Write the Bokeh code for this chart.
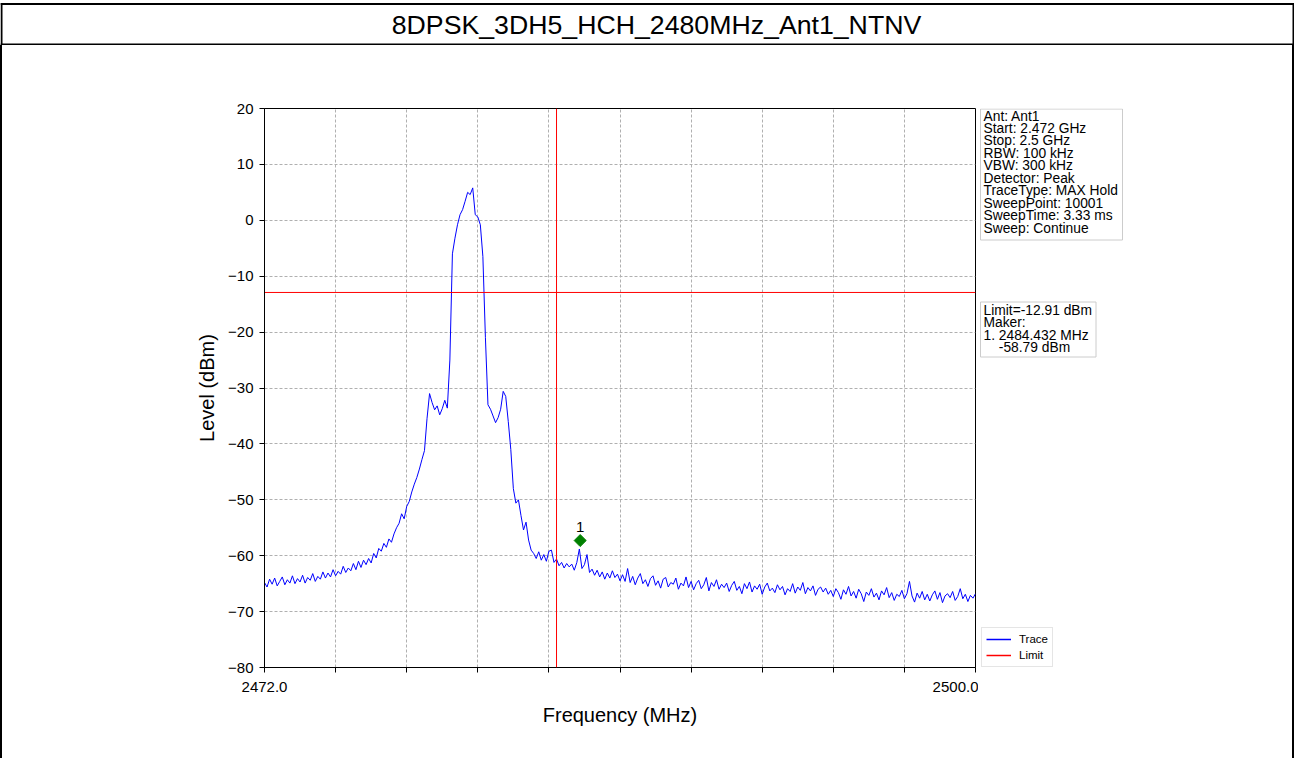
import numpy as np
from bokeh.plotting import figure
from bokeh.layouts import column, row
from bokeh.models import (Range1d, FixedTicker, Span, Legend, LegendItem, ColumnDataSource, Div)
from bokeh.transform import dodge
from bokeh.core.properties import value
from bokeh.embed import file_html
from bokeh.resources import INLINE

# ---------------- data ----------------
title_text = "8DPSK_3DH5_HCH_2480MHz_Ant1_NTNV"
freq_start = 2472.0
freq_stop = 2500.0

level_floor_left = [
    -64.8, -65.6, -64.2, -65.1, -64.0, -65.4, -64.6, -63.8, -65.2, -64.3,
    -64.9, -63.6, -65.0, -64.1, -64.7, -63.5, -64.9, -63.9, -64.4, -63.2,
    -64.6, -63.7, -64.2, -62.9, -64.0, -63.1, -63.8, -62.5, -63.6, -62.8,
    -63.3, -61.9, -63.0, -62.2, -62.7, -61.4, -62.5, -61.0, -62.1, -60.8,
    -61.6]
level_skirt_left = [
    -60.5, -61.3, -59.6, -60.4, -58.7, -59.2, -57.8, -58.5, -57.0, -57.6,
    -56.1, -55.0, -54.2, -52.5, -53.4, -51.2, -50.3, -48.6, -47.2, -46.0]
level_shoulder_left = [
    -44.5, -42.8, -41.2, -35.5, -31.0, -32.6, -33.9, -33.2, -34.8, -33.7]
level_main_lobe = [
    -32.2, -33.6, -25.0, -6.0, -3.2, -0.8, 1.0, 1.9, 3.4, 5.0,
    4.6, 5.8, 1.0, 0.6, -0.8, -6.5, -21.0, -33.0, -33.8, -35.0]
level_shoulder_right = [
    -36.2, -35.3, -33.8, -30.6, -31.5, -36.0, -41.0, -48.0, -50.6, -50.0]
level_skirt_right = [
    -52.8, -55.4, -54.0, -57.2, -59.0, -59.6, -60.5, -59.3, -60.8, -59.8,
    -61.0, -59.2, -59.0, -61.2, -60.6, -61.8, -61.2, -62.2, -61.4, -62.0,
    -61.5, -62.6, -61.2, -58.8, -62.3, -61.6, -59.8, -63.0, -62.4, -63.5,
    -62.6, -63.8, -62.9, -64.2, -63.1, -64.0, -62.7, -63.9, -63.3, -64.5]
level_floor_right = [
    -63.4, -64.6, -62.3, -64.8, -63.7, -65.2, -64.0, -63.2, -65.0, -64.3,
    -65.5, -64.1, -63.6, -65.3, -64.5, -65.8, -64.2, -63.9, -65.6, -64.8,
    -65.1, -64.0, -66.0, -64.9, -65.4, -63.8, -65.7, -64.6, -66.1, -65.0,
    -64.4, -65.9, -65.2, -63.9, -66.3, -64.8, -65.5, -64.3, -66.0, -65.1,
    -65.7, -64.9, -66.4, -65.3, -64.6, -66.2, -65.5, -66.8, -65.0, -65.9,
    -64.7, -66.5, -65.4, -66.0, -65.1, -66.9, -65.6, -64.9, -66.3, -65.8,
    -66.6, -65.2, -66.1, -65.5, -67.0, -65.9, -66.4, -65.0, -66.7, -65.6,
    -66.2, -64.8, -66.8, -65.7, -66.3, -65.4, -67.1, -66.0, -65.6, -66.5,
    -65.8, -66.9, -66.2, -67.3, -65.9, -66.6, -67.8, -66.1, -66.9, -65.5,
    -67.2, -66.4, -67.6, -66.0, -66.8, -68.2, -66.5, -67.1, -65.9, -67.4,
    -66.7, -67.9, -66.3, -67.0, -65.7, -67.5, -66.6, -68.0, -66.9, -67.3,
    -66.2, -67.7, -66.8, -64.6, -67.2, -68.3, -66.7, -67.6, -66.4, -67.9,
    -66.9, -68.1, -67.0, -66.3, -67.8, -66.6, -68.4, -67.2, -66.8, -67.5,
    -66.4, -68.0, -67.3, -65.9, -67.7, -66.9, -68.2, -67.1, -67.6, -66.8]

level_dbm = (level_floor_left + level_skirt_left + level_shoulder_left + level_main_lobe
             + level_shoulder_right + level_skirt_right + level_floor_right)
freq_mhz = list(np.linspace(freq_start, freq_stop, len(level_dbm)))

limit_dbm = -12.91
band_edge_mhz = 2483.5
marker_id = "1"
marker_freq = 2484.432
marker_level = -58.79

x_ticks = [2472.0, 2474.8, 2477.6, 2480.4, 2483.2, 2486.0, 2488.8, 2491.6, 2494.4, 2497.2, 2500.0]
x_tick_labels = ["2472.0", "", "", "", "", "", "", "", "", "", "2500.0"]
y_ticks = [-80, -70, -60, -50, -40, -30, -20, -10, 0, 10, 20]
y_tick_labels = ["\u221280", "\u221270", "\u221260", "\u221250", "\u221240", "\u221230",
                 "\u221220", "\u221210", "0", "10", "20"]

info_lines = ["Ant: Ant1", "Start: 2.472 GHz", "Stop: 2.5 GHz", "RBW: 100 kHz",
              "VBW: 300 kHz", "Detector: Peak", "TraceType: MAX Hold",
              "SweepPoint: 10001", "SweepTime: 3.33 ms", "Sweep: Continue"]
marker_lines = ["Limit=-12.91 dBm", "Maker:", "1. 2484.432 MHz",
                "\u00a0\u00a0\u00a0\u00a0-58.79 dBm"]
legend_labels = ["Trace", "Limit"]

# ---------------- layout geometry (pixels) ----------------
FONT = "Liberation Sans"
W, H = 1294, 758
TITLE_H = 45
BODY_H = H - TITLE_H
STRIP_W = 2
FRAME_L, FRAME_R, FRAME_T, FRAME_B = 264, 975, 108, 667
MAIN_W = 978 - STRIP_W
X0 = STRIP_W + MAIN_W
RIGHT_W = W - X0 - STRIP_W


def deco_fig(w, h, x0, x1, y0, y1, **borders):
    f = figure(width=w, height=h, output_backend="svg", toolbar_location=None,
               x_range=Range1d(x0, x1), y_range=Range1d(y1, y0),
               x_axis_type=None, y_axis_type=None, **borders)
    f.grid.visible = False
    f.outline_line_color = None
    f.background_fill_color = "white"
    f.border_fill_color = "white"
    return f


def strip(w, h):
    return Div(text="", width=w, height=h, margin=0,
               styles={"background-color": "black", "padding": "0", "margin": "0"})


def bar(f, l, r, t, b):
    f.quad(left=[l], right=[r], top=[t], bottom=[b], fill_color="black", line_color=None)


# ---- title row ----
tf = deco_fig(W, TITLE_H, 0, W, 0, TITLE_H, min_border=0)
bar(tf, 0, W, 2.5, 4.5)
bar(tf, 0, W, 43, 45)
bar(tf, 0, 2, 2.5, 45)
bar(tf, W - 2, W, 2.5, 45)
tf.text(x=[656], y=[24], text=[title_text], text_align="center", text_baseline="middle",
        text_font=value(FONT), text_font_size=value("26.7px"), text_color="black")

# ---- main chart ----
p = figure(width=MAIN_W, height=BODY_H, output_backend="svg", toolbar_location=None,
           x_range=Range1d(freq_start, freq_stop), y_range=Range1d(-80, 20),
           min_border_left=FRAME_L - STRIP_W, min_border_right=X0 - FRAME_R,
           min_border_top=FRAME_T - TITLE_H, min_border_bottom=H - FRAME_B)
p.border_fill_color = "white"
p.background_fill_color = "white"
p.outline_line_color = "black"
p.outline_line_width = 1
p.outline_line_alpha = 1

p.xaxis.ticker = FixedTicker(ticks=x_ticks)
p.xaxis.major_label_overrides = dict(zip(x_ticks, x_tick_labels))
p.yaxis.ticker = FixedTicker(ticks=y_ticks)
p.yaxis.major_label_overrides = dict(zip(y_ticks, y_tick_labels))
p.xgrid.ticker = FixedTicker(ticks=x_ticks)
p.ygrid.ticker = FixedTicker(ticks=y_ticks)
for ax in (p.xaxis[0], p.yaxis[0]):
    ax.axis_line_color = "black"
    ax.axis_line_width = 1
    ax.major_tick_line_color = "black"
    ax.major_tick_out = 5
    ax.major_tick_in = 0
    ax.minor_tick_line_color = None
    ax.major_label_text_font = FONT
    ax.major_label_text_font_size = "15px"
    ax.major_label_text_color = "black"
    ax.axis_label_text_font = FONT
    ax.axis_label_text_font_size = "20px"
    ax.axis_label_text_font_style = "normal"
    ax.axis_label_text_color = "black"
p.xaxis.axis_label = "Frequency (MHz)"
p.yaxis.axis_label = "Level (dBm)"
p.xaxis.major_label_standoff = 9
p.yaxis.major_label_standoff = 6
p.xaxis.axis_label_standoff = 9
p.yaxis.axis_label_standoff = 7

for g in (p.xgrid[0], p.ygrid[0]):
    g.grid_line_color = "#b0b0b0"
    g.grid_line_dash = "3 2"
    g.grid_line_width = 1

p.line(freq_mhz, level_dbm, line_color="#0000ff", line_width=1)
p.line([freq_start, freq_stop], [limit_dbm, limit_dbm], line_color="#ff0000", line_width=1)
p.add_layout(Span(location=band_edge_mhz, dimension="height", line_color="#ff0000", line_width=1))

msrc = ColumnDataSource(dict(x=[marker_freq], y=[marker_level], t=[marker_id]))
p.scatter(x="x", y=dodge("y", 1.5), source=msrc, marker="square", angle=0.785398,
          size=8.5, fill_color="#008000", line_color="#008000")
p.text(x="x", y=dodge("y", 1.5), text="t", source=msrc, y_offset=-14,
       text_align="center", text_baseline="middle", text_font=value(FONT),
       text_font_size=value("15px"), text_color="black")

# ---- right side: info boxes and legend (frame aligned with the main chart) ----
rf = deco_fig(RIGHT_W, BODY_H, X0, X0 + RIGHT_W, FRAME_T, FRAME_B,
              min_border_left=0, min_border_right=0,
              min_border_top=FRAME_T - TITLE_H, min_border_bottom=H - FRAME_B)

rf.quad(left=[980], right=[1122], top=[108.5], bottom=[239.5],
        fill_color="white", line_color="#cccccc", line_width=1)
rf.text(x=[983] * len(info_lines), y=[115.5 + 12.45 * i for i in range(len(info_lines))],
        text=info_lines, text_align="left", text_baseline="middle",
        text_font=value(FONT), text_font_size=value("13.8px"), text_color="black")

rf.quad(left=[980], right=[1095.5], top=[301.5], bottom=[356.5],
        fill_color="white", line_color="#cccccc", line_width=1)
rf.text(x=[983] * len(marker_lines), y=[310 + 12.3 * i for i in range(len(marker_lines))],
        text=marker_lines, text_align="left", text_baseline="middle",
        text_font=value(FONT), text_font_size=value("13.8px"), text_color="black")

# legend sample glyphs (kept outside the visible frame; only their legend swatches show)
leg_trace = rf.line(x=[X0 - 20, X0 - 10], y=[FRAME_B + 50, FRAME_B + 50],
                    line_color="#0000ff", line_width=1.5)
leg_limit = rf.line(x=[X0 - 20, X0 - 10], y=[FRAME_B + 50, FRAME_B + 50],
                    line_color="#ff0000", line_width=1.5)
legend = Legend(items=[LegendItem(label=legend_labels[0], renderers=[leg_trace]),
                       LegendItem(label=legend_labels[1], renderers=[leg_limit])],
                location=(981 - X0, 0), margin=0, padding=4, spacing=2,
                glyph_width=25, glyph_height=14, label_height=14, label_standoff=8,
                label_text_font=FONT, label_text_font_size="11.5px",
                label_text_color="black",
                border_line_color="#cccccc", border_line_width=1,
                background_fill_color="white", background_fill_alpha=1)
rf.add_layout(legend)

body = row([strip(STRIP_W, BODY_H), p, rf, strip(STRIP_W, BODY_H)], spacing=0)
page = column([tf, body], spacing=0)

open("out.html", "w").write(file_html(page, INLINE))
